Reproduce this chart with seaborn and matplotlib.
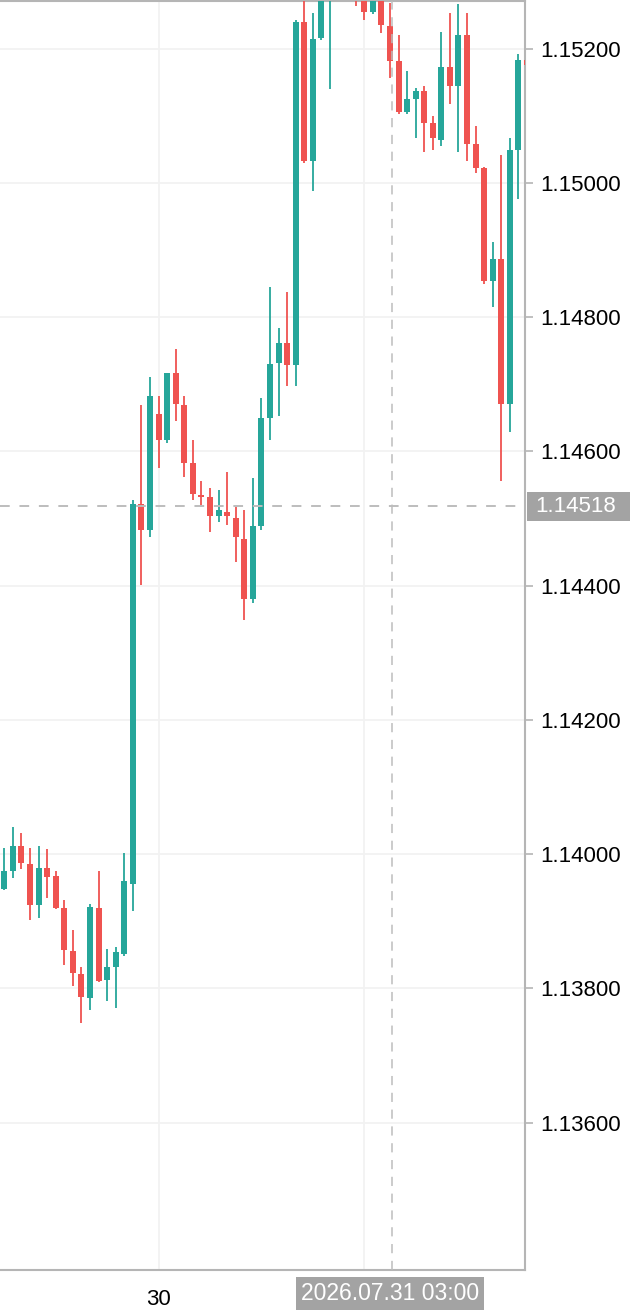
import numpy as np
import pandas as pd
import seaborn as sns
import matplotlib.pyplot as plt
from matplotlib.patches import Rectangle
from matplotlib.transforms import blended_transform_factory

# hourly EURUSD-like candles, 2026.07.29 06:00 .. 2026.07.31 19:00
opens = [1.13948, 1.13975, 1.14012, 1.13985, 1.13924, 1.13979, 1.13968, 1.13920,
         1.13856, 1.13822, 1.13786, 1.13920, 1.13812, 1.13832, 1.13851, 1.13955,
         1.14522, 1.14483, 1.14656, 1.14617, 1.14716, 1.14669, 1.14583, 1.14535,
         1.14532, 1.14503, 1.14510, 1.14501, 1.14470, 1.14380, 1.14488, 1.14650,
         1.14731, 1.14761, 1.14729, 1.15239, 1.15033, 1.15215, 1.15295, 1.15350,
         1.15320, 1.15305, 1.15290, 1.15254, 1.15285, 1.15233, 1.15181, 1.15105,
         1.15125, 1.15136, 1.15089, 1.15064, 1.15172, 1.15144, 1.15220, 1.15058,
         1.15022, 1.14854, 1.14887, 1.14670, 1.15049, 1.15183]
highs = [1.14009, 1.14041, 1.14032, 1.14009, 1.14012, 1.14007, 1.13974, 1.13931,
         1.13887, 1.13831, 1.13925, 1.13974, 1.13858, 1.13862, 1.14001, 1.14527,
         1.14669, 1.14711, 1.14683, 1.14716, 1.14752, 1.14683, 1.14617, 1.14555,
         1.14546, 1.14543, 1.14569, 1.14517, 1.14513, 1.14560, 1.14680, 1.14845,
         1.14783, 1.14837, 1.15242, 1.15290, 1.15253, 1.15335, 1.15370, 1.15390,
         1.15345, 1.15320, 1.15300, 1.15295, 1.15290, 1.15268, 1.15220, 1.15167,
         1.15141, 1.15144, 1.15100, 1.15225, 1.15253, 1.15267, 1.15253, 1.15085,
         1.15024, 1.14912, 1.15042, 1.15066, 1.15192, 1.15185]
lows = [1.13946, 1.13965, 1.13977, 1.13902, 1.13904, 1.13935, 1.13918, 1.13835,
        1.13803, 1.13749, 1.13768, 1.13809, 1.13781, 1.13770, 1.13848, 1.13915,
        1.14401, 1.14472, 1.14575, 1.14613, 1.14645, 1.14561, 1.14527, 1.14517,
        1.14479, 1.14494, 1.14490, 1.14435, 1.14349, 1.14374, 1.14483, 1.14617,
        1.14653, 1.14697, 1.14697, 1.15030, 1.14988, 1.15213, 1.15139, 1.15300,
        1.15285, 1.15264, 1.15243, 1.15252, 1.15223, 1.15156, 1.15103, 1.15103,
        1.15066, 1.15046, 1.15049, 1.15055, 1.15117, 1.15046, 1.15033, 1.15014,
        1.14849, 1.14815, 1.14556, 1.14628, 1.14976, 1.15170]
closes = [1.13974, 1.14012, 1.13986, 1.13924, 1.13979, 1.13966, 1.13920, 1.13857,
          1.13823, 1.13787, 1.13921, 1.13811, 1.13831, 1.13854, 1.13960, 1.14522,
          1.14483, 1.14683, 1.14617, 1.14716, 1.14670, 1.14583, 1.14536, 1.14532,
          1.14503, 1.14513, 1.14503, 1.14472, 1.14380, 1.14488, 1.14649, 1.14730,
          1.14761, 1.14729, 1.15239, 1.15033, 1.15214, 1.15310, 1.15350, 1.15320,
          1.15300, 1.15285, 1.15254, 1.15285, 1.15235, 1.15181, 1.15105, 1.15125,
          1.15136, 1.15089, 1.15066, 1.15172, 1.15144, 1.15220, 1.15058, 1.15022,
          1.14854, 1.14887, 1.14670, 1.15049, 1.15183, 1.15175]

start_time = "2026-07-29 06:00"
cross_time = "2026-07-31 03:00"
cross_price = 1.14518
price_ticks = [1.136, 1.138, 1.140, 1.142, 1.144, 1.146, 1.148, 1.150, 1.152]

UP = "#26a69a"
DOWN = "#ef5350"
LABEL_BG = "#a3a3a3"

sns.set_style("white")
plt.rcParams['font.family'] = ['Liberation Sans', 'DejaVu Sans']

df = pd.DataFrame({"open": opens, "high": highs, "low": lows, "close": closes})
df["time"] = pd.date_range(start_time, periods=len(df), freq="h")
df["pos"] = np.arange(len(df))
df["up"] = df["close"] >= df["open"]
df["color"] = np.where(df["up"], UP, DOWN)
df["body_lo"] = df[["open", "close"]].min(axis=1)
df["body_h"] = (df["close"] - df["open"]).abs().clip(lower=0.000015)

fig = plt.figure(figsize=(6.3, 13.15), dpi=100)
ax = fig.add_axes([0, 45 / 1315, 525 / 630, 1269 / 1315])

# wicks then bodies
ax.vlines(df["pos"], df["low"], df["high"], colors=df["color"], lw=1.3, zorder=3)
ax.bar(df["pos"], df["body_h"], bottom=df["body_lo"], width=0.7,
       color=df["color"], edgecolor="none", zorder=4)

ax.set_xlim(-0.5, 60.76)
ax.set_ylim(1.133803, 1.152708)

cross_ts = pd.Timestamp(cross_time)
cross_pos = df.loc[df["time"] == cross_ts, "pos"].iloc[0]

# axes look
ax.yaxis.tick_right()
ax.set_yticks(price_ticks)
ax.set_yticklabels([f"{p:.5f}" for p in price_ticks])
day_starts = df[df["time"].dt.hour == 0]
ax.set_xticks(day_starts["pos"])
# the day under the crosshair time label is hidden by it
ax.set_xticklabels([str(t.day) if t.date() != cross_ts.date() else ""
                    for t in day_starts["time"]])
ax.tick_params(axis="both", labelsize=16, colors="#b5b5b5", labelcolor="black",
               length=6, width=1.2, direction="out")
ax.tick_params(axis="y", pad=5)
ax.tick_params(axis="x", pad=8)
ax.grid(True, color="#f2f2f2", lw=1.3, zorder=0)
ax.set_axisbelow(True)
for side in ["top", "right", "bottom"]:
    ax.spines[side].set_color("#b5b5b5")
    ax.spines[side].set_linewidth(1.5)
ax.spines["left"].set_visible(False)

# crosshair
ax.axhline(cross_price, color="#bdbdbd", lw=1.4, dashes=(5, 5), zorder=5)
ax.axvline(cross_pos + 0.2, color="#bdbdbd", lw=1.1, dashes=(6, 5), zorder=5)

trans = blended_transform_factory(fig.transFigure, ax.transData)
box_h = 29 / 67125
ax.add_patch(Rectangle((527 / 630, cross_price - box_h / 2), 1 - 527 / 630, box_h,
                       transform=trans, facecolor=LABEL_BG, edgecolor="none",
                       clip_on=False, zorder=10))
ax.text(535 / 630, cross_price, f"{cross_price:.5f}", transform=trans,
        color="white", fontsize=16, va="center", ha="left", zorder=11, clip_on=False)

ax.text(cross_pos, -0.0095, cross_ts.strftime("%Y.%m.%d %H:%M"),
        transform=blended_transform_factory(ax.transData, ax.transAxes),
        color="white", fontsize=16.5, ha="center", va="top", zorder=11, clip_on=False,
        bbox=dict(boxstyle="square,pad=0.22", facecolor=LABEL_BG, edgecolor="none"))

fig.savefig("out.png", dpi=100)
